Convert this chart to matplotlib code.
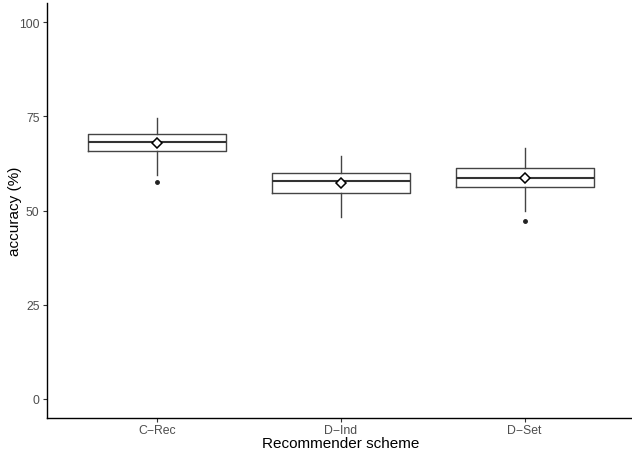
import matplotlib
matplotlib.use("Agg")
import matplotlib.pyplot as plt

categories = ["C\u2212Rec", "D\u2212Ind", "D\u2212Set"]
whisker_low = [59.4, 48.2, 49.9]
q1 = [65.9, 54.7, 56.3]
median = [68.1, 57.7, 58.5]
q3 = [70.4, 59.9, 61.2]
whisker_high = [74.5, 64.4, 66.6]
means = [68.0, 57.3, 58.5]
outliers = [[57.6], [], [47.3]]
yticks = [0, 25, 50, 75, 100]

plt.rcParams['font.family'] = ['Liberation Sans', 'DejaVu Sans']

fig = plt.figure(figsize=(6.32, 4.52), dpi=100)
W, H = 632, 452
left_px, right_px = 46.5, 635.0
bottom_px, top_px = 418.8, 4.2
ax = fig.add_axes([left_px / W, (H - bottom_px) / H, (right_px - left_px) / W, (bottom_px - top_px) / H])

stats = []
for i in range(len(categories)):
    stats.append(dict(whislo=whisker_low[i], q1=q1[i], med=median[i], q3=q3[i],
                      whishi=whisker_high[i], fliers=outliers[i], mean=means[i]))

positions = list(range(1, len(categories) + 1))
lc = "#444444"
ax.bxp(stats, positions=positions, widths=0.75, showcaps=False, showmeans=True,
       boxprops=dict(color=lc, linewidth=1.0),
       whiskerprops=dict(color=lc, linewidth=1.0),
       medianprops=dict(color="#333333", linewidth=1.5),
       flierprops=dict(marker='o', markerfacecolor='#222222', markeredgecolor='#222222', markersize=2.5),
       meanprops=dict(marker='D', markerfacecolor='white', markeredgecolor='black', markersize=5, markeredgewidth=1.1))

ax.set_xlim(0.4, 3.6)
ax.set_ylim(-5, 105)
ax.set_xticks(positions)
ax.set_xticklabels(categories)
ax.set_yticks(yticks)
ax.set_yticklabels([str(t) for t in yticks])
ax.tick_params(axis='both', colors='#333333', labelcolor='#4D4D4D', labelsize=8.8, length=3, width=0.8)
ax.tick_params(axis='x', pad=1.5)
ax.tick_params(axis='y', pad=2)
ax.set_xlabel("Recommender scheme", fontsize=11, color='black', labelpad=0)
ax.set_ylabel("accuracy (%)", fontsize=11, color='black', va='center')
ax.yaxis.set_label_coords((15.5 - left_px) / (right_px - left_px), 0.5)
for s in ['top', 'right']:
    ax.spines[s].set_visible(False)
for s in ['left', 'bottom']:
    ax.spines[s].set_color('black')
    ax.spines[s].set_linewidth(1.0)

fig.savefig("out.png", dpi=100)
